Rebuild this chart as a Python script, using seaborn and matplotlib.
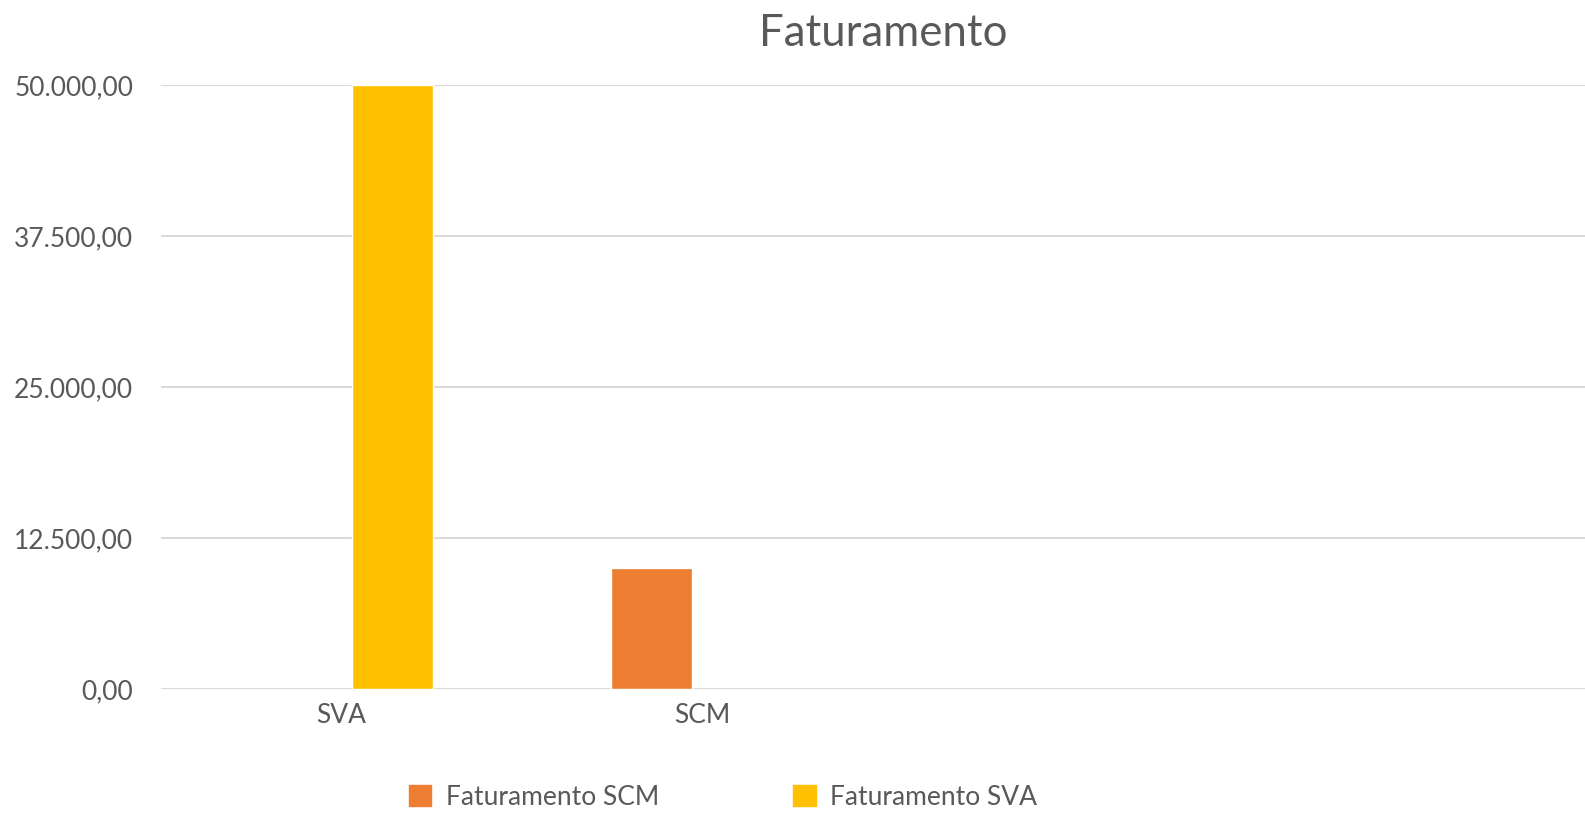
import pandas as pd
import matplotlib.pyplot as plt
import seaborn as sns
from matplotlib.patches import Patch
from matplotlib.ticker import FuncFormatter

categorias = ['SVA', 'SCM']
series = ['Faturamento SCM', 'Faturamento SVA']
cores = ['#ED7D31', '#FFC000']
# cada serie so tem valor numa categoria
serie_linha = ['Faturamento SVA', 'Faturamento SCM']
valores = [50000, 10000]
yticks = [0, 12500, 25000, 37500, 50000]

df = pd.DataFrame({'categoria': categorias, 'serie': serie_linha, 'valor': valores})

sns.set_theme(style='white')
plt.rcParams['font.family'] = ['Lato', 'DejaVu Sans']

fig = plt.figure(figsize=(15.85, 8.13), dpi=100)
ax = fig.add_axes([161 / 1585, 1 - 689 / 813, 1444 / 1585, 604 / 813])

sns.barplot(data=df, x='categoria', y='valor', hue='serie', order=categorias,
            hue_order=series, palette=cores, width=0.565, gap=0.214, dodge=True,
            saturation=1, legend=False, ax=ax)

ax.set_xlim(-0.5, 3.5)
ax.set_ylim(0, 50000)
ax.set_yticks(yticks)
# formato brasileiro 50.000,00
ax.yaxis.set_major_formatter(FuncFormatter(
    lambda v, p: f'{v:,.2f}'.replace(',', 'X').replace('.', ',').replace('X', '.')))
ax.grid(axis='y', color='#D9D9D9', linewidth=1.5)
ax.set_axisbelow(True)
for s in ax.spines.values():
    s.set_visible(False)
ax.tick_params(axis='y', length=0, pad=20, labelsize=19, labelcolor='#595959')
ax.tick_params(axis='x', length=0, pad=10, labelsize=19, labelcolor='#595959')
ax.set_xlabel('')
ax.set_ylabel('')
ax.set_title('Faturamento', fontsize=31.5, color='#595959', pad=28)

handles = [Patch(color=c, label=s) for c, s in zip(cores, series)]
fig.legend(handles=handles, loc='center', bbox_to_anchor=(723 / 1585, 1 - 797 / 813),
           ncol=2, frameon=False, fontsize=19, labelcolor='#595959',
           handlelength=0.85, handleheight=0.85, handletextpad=0.55,
           columnspacing=5.1, borderpad=0.1)

plt.savefig('out.png', dpi=100)
